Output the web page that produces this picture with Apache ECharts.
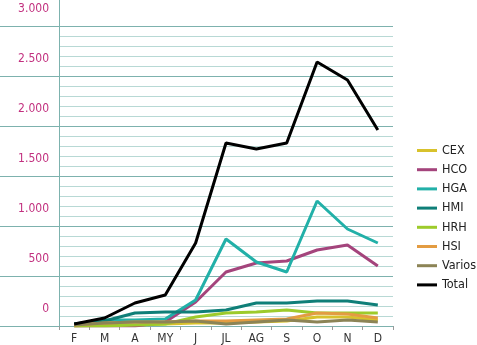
<!DOCTYPE html>
<html><head><meta charset="utf-8">
<script src="https://cdn.jsdelivr.net/npm/echarts@6/dist/echarts.min.js"></script>
<style>html,body{margin:0;padding:0;background:#fff}#c{width:477px;height:345px}</style>
</head><body><div id="c"></div>
<script>
var months = ['F','M','A','MY','J','JL','AG','S','O','N','D'];
var yLabels = ['0','500','1.000','1.500','2.000','2.500','3.000'];
var CEX    = [0, 10, 10, 20, 30, 30, 40, 50, 90, 90, 60];
var HCO    = [0, 0, 0, 40, 240, 540, 630, 650, 760, 810, 600];
var HGA    = [20, 60, 60, 70, 260, 870, 640, 540, 1250, 970, 830];
var HMI    = [20, 50, 130, 140, 140, 160, 230, 230, 250, 250, 210];
var HRH    = [0, 0, 10, 20, 90, 130, 140, 160, 130, 130, 130];
var HSI    = [10, 30, 40, 40, 50, 50, 60, 70, 130, 120, 80];
var Varios = [10, 30, 40, 40, 50, 20, 40, 60, 40, 60, 40];
var Total  = [20, 80, 230, 310, 830, 1830, 1770, 1830, 2640, 2460, 1960];

var names = ['CEX','HCO','HGA','HMI','HRH','HSI','Varios','Total'];
var datas = [CEX, HCO, HGA, HMI, HRH, HSI, Varios, Total];
var colors = ['#d8c22c','#a4447c','#22b0a8','#0f7f78','#9dcb2b','#e39c42','#8c8456','#000000'];

var FONT = '"DejaVu Sans Condensed","Liberation Sans Narrow",sans-serif';
var MAJOR = '#7db2ae', MINOR = '#b8d9d5';

var chart = echarts.init(document.getElementById('c'), null, {renderer:'canvas'});
chart.setOption({
  animation:false,
  backgroundColor:'#fff',
  grid:[
    {left:59, right:84, top:26, bottom:19},
    {left:0, width:59, top:26, bottom:19},
    {left:59, width:1, top:0, bottom:19}
  ],
  legend:{
    orient:'vertical', left:412, top:139, itemWidth:20, itemHeight:3, itemGap:6.2,
    icon:'rect',
    textStyle:{fontFamily:FONT, fontSize:12.5, color:'#222'},
    data:names
  },
  xAxis:[
    {type:'category', gridIndex:0, data:months, boundaryGap:true,
     axisLine:{show:false}, axisTick:{show:true, length:4, lineStyle:{color:'#9a9a9a'}},
     axisLabel:{fontFamily:FONT, fontSize:12, color:'#333', margin:7}},
    {type:'value', gridIndex:1, show:false, min:0, max:1},
    {type:'value', gridIndex:2, show:false, min:0, max:1}
  ],
  yAxis:[
    {type:'value', gridIndex:0, min:0, max:3000, interval:100,
     axisLine:{show:false}, axisTick:{show:false},
     splitLine:{show:true, lineStyle:{color:[MAJOR,MINOR,MINOR,MINOR,MINOR], width:1}},
     axisLabel:{fontFamily:FONT, fontSize:12, color:'#c2307f', margin:10,
       verticalAlign:'bottom', padding:[0,0,11,0],
       formatter:function(v){ return v % 500 === 0 ? yLabels[v/500] : ''; }}},
    {type:'value', gridIndex:1, min:0, max:3000, interval:500,
     axisLine:{show:false}, axisTick:{show:false}, axisLabel:{show:false},
     splitLine:{show:true, lineStyle:{color:MAJOR, width:1}}},
    {type:'value', gridIndex:2, min:0, max:1,
     axisLine:{show:true, lineStyle:{color:MAJOR, width:1}}, axisTick:{show:false},
     axisLabel:{show:false}, splitLine:{show:false}}
  ],
  series: names.map(function(n,i){
    return {name:n, type:'line', data:datas[i], xAxisIndex:0, yAxisIndex:0,
      showSymbol:false, symbol:'none', color:colors[i],
      lineStyle:{width:3, color:colors[i]}, z:2+i};
  })
});
</script></body></html>
